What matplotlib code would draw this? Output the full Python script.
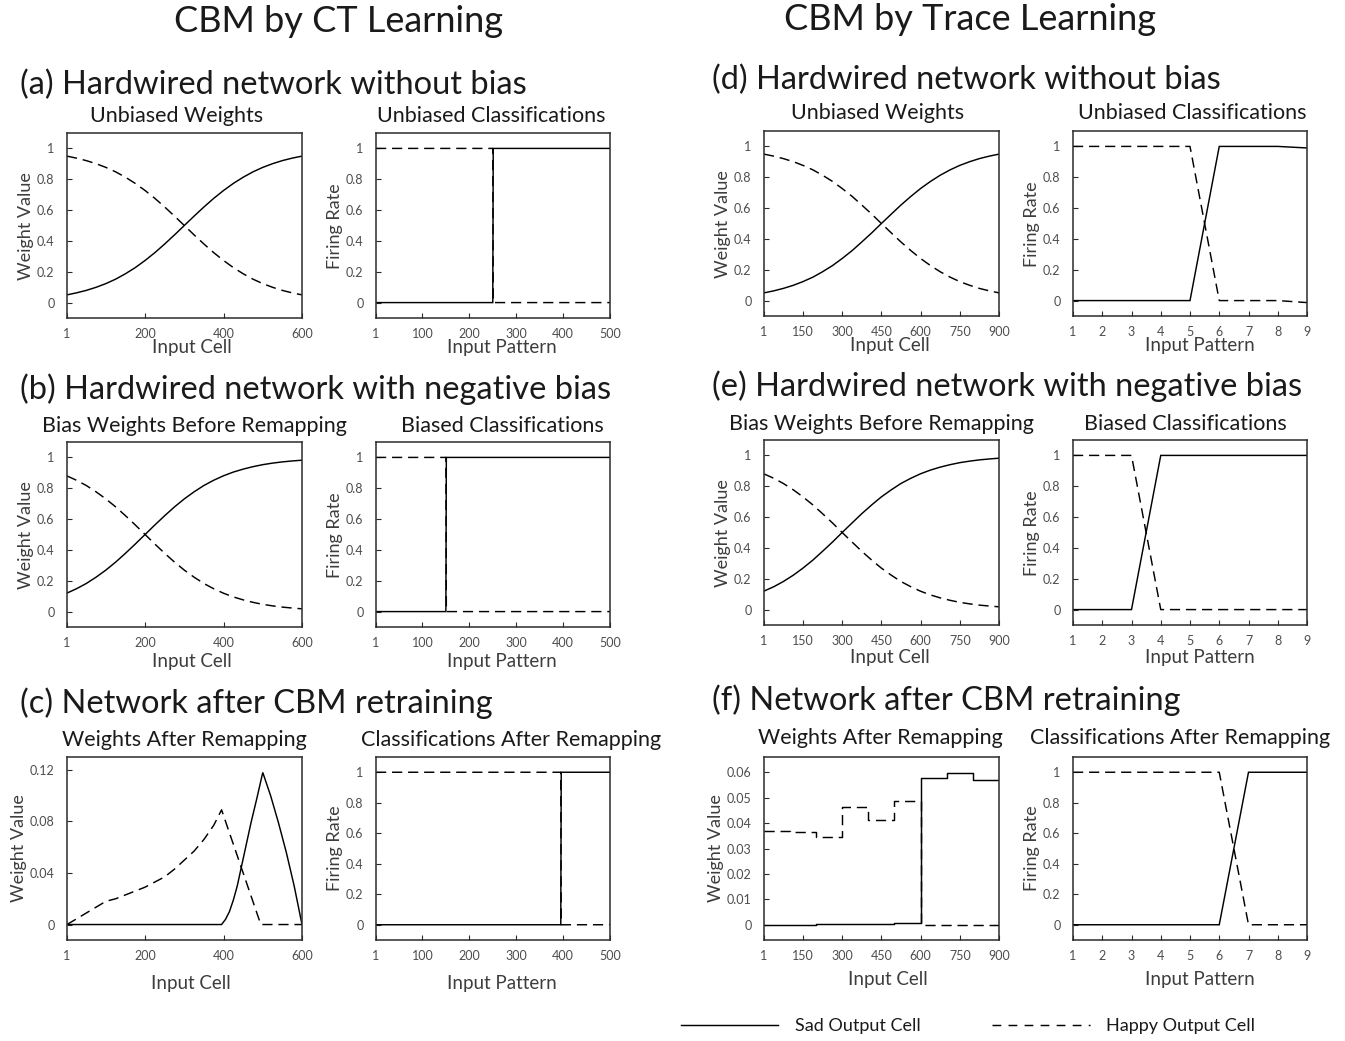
"""
CBM remapping figure: weight profiles and classification curves for the
hardwired, biased and retrained networks (CT learning vs trace learning).
"""

import numpy as np
import matplotlib
matplotlib.use('Agg')
import matplotlib.pyplot as plt
from matplotlib.lines import Line2D

plt.rcParams['font.family'] = ['Lato', 'DejaVu Sans']

W, H = 1345, 1041

# ---- CT learning: 600 input cells, 500 input patterns ----
ct_cells = [1, 25, 50, 75, 100, 125, 150, 175, 200, 225, 250, 275, 300,
            325, 350, 375, 400, 425, 450, 475, 500, 525, 550, 575, 600]

# unbiased hardwired weights (crossing at cell 300)
sad_unbiased = [0.050, 0.063, 0.079, 0.099, 0.123, 0.152, 0.187, 0.227, 0.273,
                0.324, 0.380, 0.439, 0.500, 0.561, 0.620, 0.676, 0.727, 0.773,
                0.813, 0.848, 0.877, 0.901, 0.921, 0.937, 0.950]
happy_unbiased = [0.950, 0.937, 0.921, 0.901, 0.877, 0.848, 0.813, 0.773, 0.727,
                  0.676, 0.620, 0.561, 0.500, 0.439, 0.380, 0.324, 0.273, 0.227,
                  0.187, 0.152, 0.123, 0.099, 0.079, 0.063, 0.050]

# negatively biased weights (crossing moved to cell 200)
sad_biased = [0.120, 0.148, 0.182, 0.223, 0.269, 0.321, 0.378, 0.438, 0.500,
              0.562, 0.622, 0.679, 0.731, 0.777, 0.818, 0.852, 0.881, 0.905,
              0.924, 0.940, 0.953, 0.963, 0.971, 0.977, 0.982]
happy_biased = [0.880, 0.852, 0.818, 0.777, 0.731, 0.679, 0.622, 0.562, 0.500,
                0.438, 0.378, 0.321, 0.269, 0.223, 0.182, 0.148, 0.119, 0.095,
                0.076, 0.060, 0.047, 0.037, 0.029, 0.023, 0.018]

# CT classifications (step at the category boundary)
ct_class_a_x = [1, 250, 251, 500]
ct_class_b_x = [1, 150, 151, 500]
ct_class_c_x = [1, 395, 396, 500]
ct_sad_class = [0, 0, 1, 1]
ct_happy_class = [1, 1, 0, 0]

# CT weights after remapping
ct_happy_remap_x = [1, 100, 125, 150, 175, 200, 225, 250, 275, 300, 325, 350,
                    375, 395, 495, 600]
ct_happy_remap = [0, 0.018, 0.020, 0.023, 0.026, 0.029, 0.033, 0.037, 0.043,
                  0.050, 0.057, 0.066, 0.077, 0.089, 0, 0]
ct_sad_remap_x = [1, 395, 405, 415, 425, 435, 445, 455, 470, 485, 500,
                  520, 540, 560, 580, 600]
ct_sad_remap = [0, 0, 0.004, 0.010, 0.019, 0.030, 0.044, 0.058, 0.079, 0.098,
                0.118, 0.100, 0.079, 0.056, 0.030, 0]

# ---- Trace learning: 900 input cells, 9 input patterns ----
trace_cells = [1, 38, 75, 113, 150, 188, 225, 263, 300, 338, 375, 413, 450,
               488, 525, 563, 600, 638, 675, 713, 750, 788, 825, 863, 900]
patterns = [1, 2, 3, 4, 5, 6, 7, 8, 9]

trace_sad_class_d = [0, 0, 0, 0, 0, 1, 1, 1, 0.99]
trace_happy_class_d = [1, 1, 1, 1, 1, 0, 0, 0, -0.013]
trace_sad_class_e = [0, 0, 0, 1, 1, 1, 1, 1, 1]
trace_happy_class_e = [1, 1, 1, 0, 0, 0, 0, 0, 0]
trace_sad_class_f = [0, 0, 0, 0, 0, 0, 1, 1, 1]
trace_happy_class_f = [1, 1, 1, 1, 1, 1, 0, 0, 0]

# trace weights after remapping, one value per block of 100 cells
block_edges = [1, 100, 200, 300, 400, 500, 600, 700, 800, 900]
trace_happy_remap = [0.0370, 0.0366, 0.0346, 0.0463, 0.0413, 0.0487, 0, 0, 0]
trace_sad_remap = [0, 0, 0.0001, 0.0002, 0.0003, 0.0006, 0.0578, 0.0597, 0.0569]

ct_cell_ticks = [1, 200, 400, 600]
ct_pattern_ticks = [1, 100, 200, 300, 400, 500]
trace_cell_ticks = [1, 150, 300, 450, 600, 750, 900]
unit_ticks = [0, 0.2, 0.4, 0.6, 0.8, 1]
unit_ticklabels = ['0', '0.2', '0.4', '0.6', '0.8', '1']

TICK_COLOR = '#4d4d4d'
LABEL_COLOR = '#3d3d3d'
SPINE_COLOR = '#2b2b2b'
DASH = (0, (7, 4))
LW = 1.05


def fig_xy(x_px, y_px):
    return x_px / W, 1 - y_px / H


def px_axes(fig, x0, y0, x1, y1):
    return fig.add_axes([x0 / W, 1 - y1 / H, (x1 - x0) / W, (y1 - y0) / H])


def style_axes(ax, xlim, xticks, ylim, yticks, yticklabels):
    ax.set_xlim(*xlim)
    ax.set_ylim(*ylim)
    ax.set_xticks(xticks)
    ax.set_xticklabels([str(t) for t in xticks])
    ax.set_yticks(yticks)
    ax.set_yticklabels(yticklabels)
    ax.tick_params(axis='both', direction='in', length=3.5, width=0.8,
                   colors=SPINE_COLOR, labelcolor=TICK_COLOR, labelsize=9)
    ax.tick_params(axis='x', pad=7)
    ax.tick_params(axis='y', pad=9)
    for sp in ax.spines.values():
        sp.set_color(SPINE_COLOR)
        sp.set_linewidth(1.1)


def add_labels(fig, ax, title, title_xy, xlabel, xlabel_xy, ylabel, ylabel_xy):
    fig.text(*fig_xy(*title_xy), title, ha='center', va='center',
             fontsize=15.5, color='#1a1a1a')
    ax.set_xlabel(xlabel, fontsize=13.5, color=LABEL_COLOR)
    ax.xaxis.set_label_coords(*fig_xy(*xlabel_xy), transform=fig.transFigure)
    ax.xaxis.label.set_verticalalignment('center')
    ax.set_ylabel(ylabel, fontsize=13, color=LABEL_COLOR)
    ax.yaxis.set_label_coords(*fig_xy(*ylabel_xy), transform=fig.transFigure)
    ax.yaxis.label.set_verticalalignment('center')


def plot_pair(ax, x_sad, sad, x_happy, happy):
    ax.plot(x_sad, sad, color='black', lw=LW, solid_joinstyle='miter')
    ax.plot(x_happy, happy, color='black', lw=LW, linestyle=DASH)


fig = plt.figure(figsize=(W / 100, H / 100), dpi=100)

# column headers
fig.text(*fig_xy(338, 22), 'CBM by CT Learning', ha='center', va='center',
         fontsize=26, color='#1a1a1a')
fig.text(*fig_xy(970, 20), 'CBM by Trace Learning', ha='center', va='center',
         fontsize=26, color='#1a1a1a')

# section headings
sections = [
    ((20, 85), '(a) Hardwired network without bias'),
    ((20, 389), '(b) Hardwired network with negative bias'),
    ((20, 703), '(c) Network after CBM retraining'),
    ((712, 80), '(d) Hardwired network without bias'),
    ((712, 386), '(e) Hardwired network with negative bias'),
    ((712, 700), '(f) Network after CBM retraining'),
]
for xy, txt in sections:
    fig.text(*fig_xy(*xy), txt, ha='left', va='center', fontsize=23.5,
             color='#1a1a1a')

# ---------------- CT learning ----------------
# (a)
ax = px_axes(fig, 67, 133, 302, 318)
plot_pair(ax, ct_cells, sad_unbiased, ct_cells, happy_unbiased)
style_axes(ax, (1, 600), ct_cell_ticks, (-0.1, 1.1), unit_ticks, unit_ticklabels)
add_labels(fig, ax, 'Unbiased Weights', (177, 116), 'Input Cell', (192, 348),
           'Weight Value', (26, 226))

ax = px_axes(fig, 376, 133, 610, 318)
plot_pair(ax, ct_class_a_x, ct_sad_class, ct_class_a_x, ct_happy_class)
style_axes(ax, (1, 500), ct_pattern_ticks, (-0.1, 1.1), unit_ticks, unit_ticklabels)
add_labels(fig, ax, 'Unbiased Classifications', (491, 116), 'Input Pattern',
           (502, 348), 'Firing Rate', (335, 226))

# (b)
ax = px_axes(fig, 67, 442, 302, 627)
plot_pair(ax, ct_cells, sad_biased, ct_cells, happy_biased)
style_axes(ax, (1, 600), ct_cell_ticks, (-0.1, 1.1), unit_ticks, unit_ticklabels)
add_labels(fig, ax, 'Bias Weights Before Remapping', (194, 426), 'Input Cell',
           (192, 661), 'Weight Value', (26, 535))

ax = px_axes(fig, 376, 442, 610, 627)
plot_pair(ax, ct_class_b_x, ct_sad_class, ct_class_b_x, ct_happy_class)
style_axes(ax, (1, 500), ct_pattern_ticks, (-0.1, 1.1), unit_ticks, unit_ticklabels)
add_labels(fig, ax, 'Biased Classifications', (502, 426), 'Input Pattern',
           (502, 661), 'Firing Rate', (335, 535))

# (c)
ax = px_axes(fig, 67, 757, 302, 940)
plot_pair(ax, ct_sad_remap_x, ct_sad_remap, ct_happy_remap_x, ct_happy_remap)
style_axes(ax, (1, 600), ct_cell_ticks, (-0.012, 0.13),
           [0, 0.04, 0.08, 0.12], ['0', '0.04', '0.08', '0.12'])
add_labels(fig, ax, 'Weights After Remapping', (184, 740), 'Input Cell',
           (191, 983), 'Weight Value', (19, 848))

ax = px_axes(fig, 376, 757, 610, 940)
plot_pair(ax, ct_class_c_x, ct_sad_class, ct_class_c_x, ct_happy_class)
style_axes(ax, (1, 500), ct_pattern_ticks, (-0.1, 1.1), unit_ticks, unit_ticklabels)
add_labels(fig, ax, 'Classifications After Remapping', (511, 740),
           'Input Pattern', (502, 983), 'Firing Rate', (335, 848))

# ---------------- Trace learning ----------------
# (d)
ax = px_axes(fig, 764, 131, 999, 316)
plot_pair(ax, trace_cells, sad_unbiased, trace_cells, happy_unbiased)
style_axes(ax, (1, 900), trace_cell_ticks, (-0.1, 1.1), unit_ticks, unit_ticklabels)
add_labels(fig, ax, 'Unbiased Weights', (878, 113), 'Input Cell', (890, 346),
           'Weight Value', (723, 224))

ax = px_axes(fig, 1073, 131, 1307, 316)
plot_pair(ax, patterns, trace_sad_class_d, patterns, trace_happy_class_d)
style_axes(ax, (1, 9), patterns, (-0.1, 1.1), unit_ticks, unit_ticklabels)
add_labels(fig, ax, 'Unbiased Classifications', (1192, 113), 'Input Pattern',
           (1200, 346), 'Firing Rate', (1032, 224))

# (e)
ax = px_axes(fig, 764, 440, 999, 625)
plot_pair(ax, trace_cells, sad_biased, trace_cells, happy_biased)
style_axes(ax, (1, 900), trace_cell_ticks, (-0.1, 1.1), unit_ticks, unit_ticklabels)
add_labels(fig, ax, 'Bias Weights Before Remapping', (881, 424), 'Input Cell',
           (890, 658), 'Weight Value', (723, 533))

ax = px_axes(fig, 1073, 440, 1307, 625)
plot_pair(ax, patterns, trace_sad_class_e, patterns, trace_happy_class_e)
style_axes(ax, (1, 9), patterns, (-0.1, 1.1), unit_ticks, unit_ticklabels)
add_labels(fig, ax, 'Biased Classifications', (1185, 424), 'Input Pattern',
           (1200, 658), 'Firing Rate', (1032, 533))

# (f) block-wise weights drawn as steps
ax = px_axes(fig, 764, 757, 999, 940)
ax.step(block_edges, trace_sad_remap + trace_sad_remap[-1:], where='post',
        color='black', lw=LW)
ax.step(block_edges, trace_happy_remap + trace_happy_remap[-1:], where='post',
        color='black', lw=LW, linestyle=DASH)
style_axes(ax, (1, 900), trace_cell_ticks, (-0.006, 0.066),
           [0, 0.01, 0.02, 0.03, 0.04, 0.05, 0.06],
           ['0', '0.01', '0.02', '0.03', '0.04', '0.05', '0.06'])
add_labels(fig, ax, 'Weights After Remapping', (880, 738), 'Input Cell',
           (888, 980), 'Weight Value', (716, 848))

ax = px_axes(fig, 1073, 757, 1307, 940)
plot_pair(ax, patterns, trace_sad_class_f, patterns, trace_happy_class_f)
style_axes(ax, (1, 9), patterns, (-0.1, 1.1), unit_ticks, unit_ticklabels)
add_labels(fig, ax, 'Classifications After Remapping', (1180, 738),
           'Input Pattern', (1200, 980), 'Firing Rate', (1032, 848))

# shared legend
handles = [Line2D([], [], color='black', lw=LW),
           Line2D([], [], color='black', lw=LW, linestyle=(0, (6, 5)))]
fig.legend(handles, ['Sad Output Cell', 'Happy Output Cell'],
           loc='center', bbox_to_anchor=fig_xy(968, 1026), ncol=2,
           frameon=False, fontsize=13, handlelength=5.4, handletextpad=0.9,
           columnspacing=4.0, labelcolor='#1a1a1a')

fig.savefig('out.png', dpi=100)
